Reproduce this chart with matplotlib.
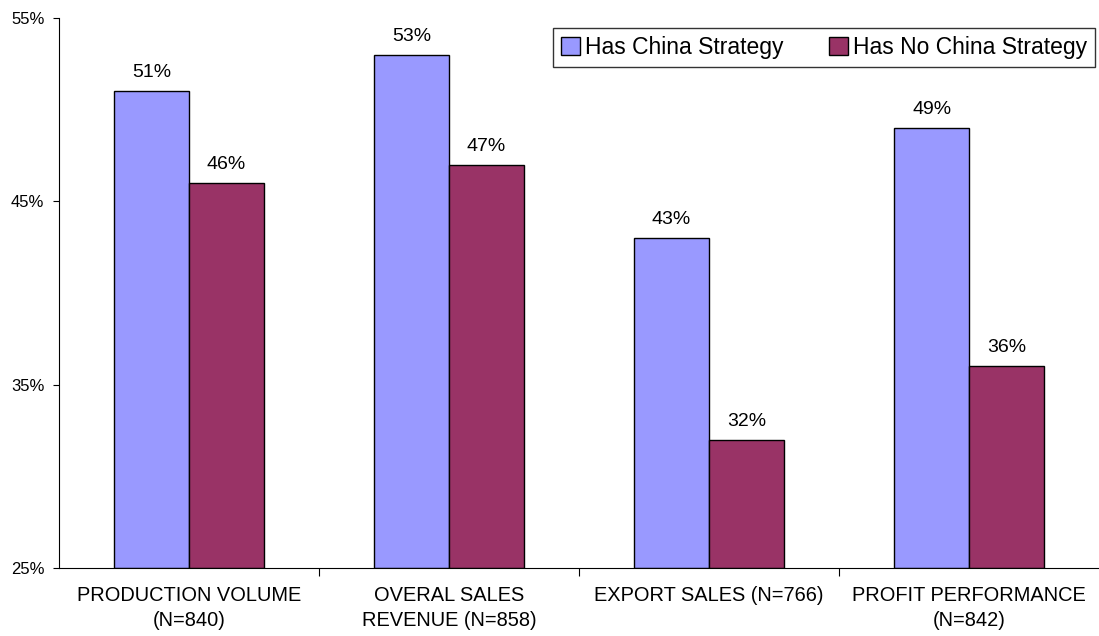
import numpy as np
import matplotlib.pyplot as plt
import matplotlib.ticker as mticker

plt.rcParams['font.family'] = ['Liberation Sans', 'DejaVu Sans']

categories = ["PRODUCTION VOLUME\n(N=840)", "OVERAL SALES\nREVENUE (N=858)",
              "EXPORT SALES (N=766)", "PROFIT PERFORMANCE\n(N=842)"]
has_china = [51, 53, 43, 49]
no_china = [46, 47, 32, 36]
series_names = ["Has China Strategy", "Has No China Strategy"]

fig = plt.figure(figsize=(10.99, 6.36), dpi=100)
ax = fig.add_axes([0.0537, 0.107, 0.9463, 0.8647])

x = np.arange(len(categories))
w = 0.288
ax.bar(x - w / 2, np.array(has_china) - 25, w, bottom=25, color='#9999FF',
       edgecolor='black', linewidth=1, label=series_names[0])
ax.bar(x + w / 2, np.array(no_china) - 25, w, bottom=25, color='#993366',
       edgecolor='black', linewidth=1, label=series_names[1])

for xs, vals in [(x - w / 2, has_china), (x + w / 2, no_china)]:
    for xi, v in zip(xs, vals):
        ax.text(xi, v + 0.55, f"{v}%", ha='center', va='bottom', fontsize=14)

ax.set_ylim(25, 55)
ax.set_xlim(-0.5, 3.5)
ax.set_yticks([25, 35, 45, 55])
ax.yaxis.set_major_formatter(mticker.FuncFormatter(lambda v, p: f"{v:.0f}%"))
ax.tick_params(axis='y', labelsize=12, length=4.5, width=0.8, pad=6)

ax.set_xticks(x)
ax.set_xticklabels(categories, fontsize=14.4, linespacing=1.4)
ax.tick_params(axis='x', length=0, pad=13)
ax.set_xticks(np.arange(0.5, 3.5, 1), minor=True)
ax.tick_params(axis='x', which='minor', length=6, width=0.8)

for s in ['top', 'right']:
    ax.spines[s].set_visible(False)
ax.spines['left'].set_linewidth(0.8)
ax.spines['bottom'].set_linewidth(0.8)

leg = ax.legend(loc='upper right', bbox_to_anchor=(0.996, 0.982), ncol=2,
                fontsize=16.5, frameon=True, fancybox=False, edgecolor='black',
                handlelength=0.83, handleheight=0.83, handletextpad=0.2,
                columnspacing=2.0, borderpad=0.35, borderaxespad=0)
leg.get_frame().set_linewidth(1)

fig.savefig("out.png", dpi=100)
